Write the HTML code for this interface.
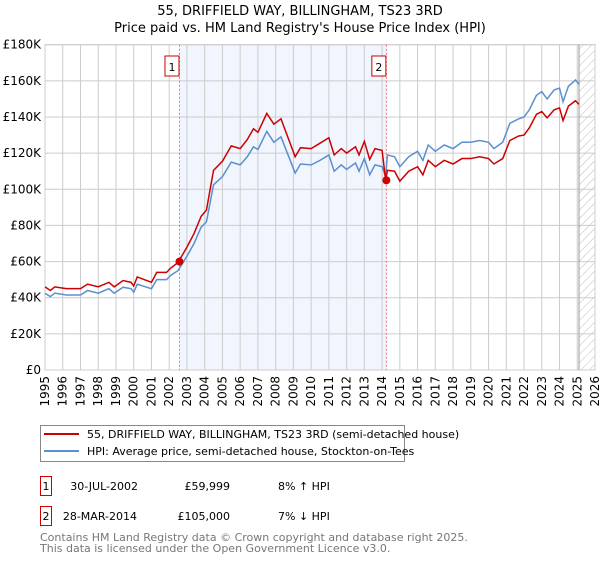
<!DOCTYPE html>
<html><head><meta charset="utf-8"><style>
body{margin:0;background:#fff;font-family:"Liberation Sans","DejaVu Sans",sans-serif}
svg text{font-family:"DejaVu Sans","Liberation Sans",sans-serif}
</style></head><body>
<svg id="chart" width="600" height="560" xmlns="http://www.w3.org/2000/svg">
<defs><pattern id="hatch" width="6" height="6" patternUnits="userSpaceOnUse" patternTransform="rotate(45)"><line x1="0" y1="0" x2="0" y2="6" stroke="#bbb" stroke-width="1"/></pattern></defs>
<text x="300" y="15" text-anchor="middle" font-size="13">55, DRIFFIELD WAY, BILLINGHAM, TS23 3RD</text>
<text x="300" y="32" text-anchor="middle" font-size="13">Price paid vs. HM Land Registry's House Price Index (HPI)</text>
<g id="plot"></g>
<g>
<rect x="40.5" y="425.5" width="364" height="36" fill="#fff" stroke="#888"/>
<line x1="44" y1="434" x2="79" y2="434" stroke="#cc0000" stroke-width="2"/>
<text x="87" y="438" font-size="11">55, DRIFFIELD WAY, BILLINGHAM, TS23 3RD (semi-detached house)</text>
<line x1="44" y1="451" x2="79" y2="451" stroke="#5b8fd0" stroke-width="2"/>
<text x="87" y="455" font-size="11">HPI: Average price, semi-detached house, Stockton-on-Tees</text>
</g>
<g font-size="11">
<rect x="40.5" y="476.5" width="11" height="19" fill="#fff" stroke="#cc0000"/>
<text x="46" y="490" text-anchor="middle">1</text>
<text x="138" y="490" text-anchor="end">30-JUL-2002</text>
<text x="230" y="490" text-anchor="end">£59,999</text>
<text x="278" y="490">8% ↑ HPI</text>
<rect x="40.5" y="506.5" width="11" height="19" fill="#fff" stroke="#cc0000"/>
<text x="46" y="520" text-anchor="middle">2</text>
<text x="137" y="520" text-anchor="end">28-MAR-2014</text>
<text x="230" y="520" text-anchor="end">£105,000</text>
<text x="278" y="520">7% ↓ HPI</text>
</g>
<text x="40" y="541" font-size="11" fill="#777">Contains HM Land Registry data © Crown copyright and database right 2025.</text>
<text x="40" y="552" font-size="11" fill="#777">This data is licensed under the Open Government Licence v3.0.</text>
</svg>
<script>
const hpiYears=[1995.0,1995.3,1995.55,1996.2,1997.0,1997.4,1998.0,1998.6,1998.9,1999.4,1999.85,2000.0,2000.2,2001.0,2001.3,2001.85,2002.1,2002.5,2003.0,2003.4,2003.8,2004.1,2004.5,2005.0,2005.5,2006.0,2006.4,2006.75,2007.0,2007.5,2007.9,2008.3,2008.7,2009.1,2009.4,2010.0,2010.5,2011.0,2011.3,2011.7,2012.0,2012.5,2012.7,2013.0,2013.3,2013.6,2014.0,2014.2,2014.3,2014.7,2015.0,2015.5,2016.0,2016.3,2016.6,2017.0,2017.5,2018.0,2018.5,2019.0,2019.5,2020.0,2020.3,2020.8,2021.2,2021.7,2022.0,2022.3,2022.7,2023.0,2023.3,2023.7,2024.0,2024.2,2024.5,2024.9,2025.1];
const hpiValues=[42.5,40.6,42.5,41.5,41.5,44,42.5,45,42.5,45.8,45,43,47.5,45,50,50,52.5,55,63,70,79,82,102.5,107,115,113.5,118,123.5,122,132,126,129,119,109,114,113.5,116,119,110,113.5,111,114.5,110,117,108,113.5,112.5,107,119,118,112.5,118,121,116,124.5,121,124.5,122.5,126,126,127,126,122.5,126,136.5,139,140,144,152,154,150,155,156,148.5,157,160.5,158];
const priceValues=[46,44,46,45,45,47.5,46,48.5,46,49.5,48.5,46.5,51.5,48.5,54,54,56.5,59.5,68,75.5,85,88.5,110.5,115.5,124,122.5,127.5,133.5,131.5,142,136,139,128.5,118,123,122.5,125.5,128.5,119,122.5,120,123.5,119,126.5,116.5,122.5,121.5,105,110.5,110,104.5,110,112.5,108,116,112.5,116,114,117,117,118,117,114,117,127,129.5,130,134,141.5,143,139.5,144,145,138,146,149,147];
const saleYears=[2002.58,2014.24];
const saleValues=[59.999,105];
const yTicks=[0,20,40,60,80,100,120,140,160,180];
const yTickLabels=["£0","£20K","£40K","£60K","£80K","£100K","£120K","£140K","£160K","£180K"];
const xTicks=[1995,1996,1997,1998,1999,2000,2001,2002,2003,2004,2005,2006,2007,2008,2009,2010,2011,2012,2013,2014,2015,2016,2017,2018,2019,2020,2021,2022,2023,2024,2025,2026];

const L=45,R=595,T=44.7,B=370,X0=1995,X1=2026,YMAX=180;
const sx=v=>L+(v-X0)/(X1-X0)*(R-L);
const sy=v=>B-v/YMAX*(B-T);
const NS="http://www.w3.org/2000/svg";
const g=document.getElementById('plot');
function mk(tag,attrs,parent){const e=document.createElementNS(NS,tag);for(const k in attrs)e.setAttribute(k,attrs[k]);(parent||g).appendChild(e);return e;}

const shade=mk('rect',{x:sx(saleYears[0]),y:T,width:sx(saleYears[1])-sx(saleYears[0]),height:B-T,fill:'#eef2fc',opacity:0.8});


const hatch=mk('rect',{x:sx(2025.1),y:T,width:R-sx(2025.1),height:B-T,fill:'url(#hatch)'});



yTicks.forEach((v,i)=>{
  const ln=mk('line',{x1:L,x2:R,y1:sy(v),y2:sy(v),stroke:'#ccc','stroke-width':1});
  
  
  const t=mk('text',{x:L-4,y:sy(v)+4,'text-anchor':'end','font-size':12});
  t.textContent=yTickLabels[i];
  
  
});
xTicks.forEach(v=>{
  const ln=mk('line',{x1:sx(v),x2:sx(v),y1:T,y2:B,stroke:'#ccc','stroke-width':1});
  
  
  const t=mk('text',{x:0,y:0,'text-anchor':'end','font-size':12,transform:`translate(${sx(v)+4},${B+6}) rotate(-90)`});
  t.textContent=v;
  
  
});
const border=mk('rect',{x:L,y:T,width:R-L,height:B-T,fill:'none',stroke:'#ccc'});


const edge=mk('line',{x1:sx(2025.1),x2:sx(2025.1),y1:T,y2:B,stroke:'#999','stroke-width':1});



saleYears.forEach((y,i)=>{
  const vl=mk('line',{x1:sx(y),x2:sx(y),y1:T,y2:B,stroke:'#f07070','stroke-width':1,'stroke-dasharray':'2,2'});
  
  
  const bx=mk('rect',{x:sx(y)-14.5,y:56,width:14,height:20,fill:'#fff',stroke:'#cc0000'});
  
  
  const t=mk('text',{x:sx(y)-7.5,y:71,'text-anchor':'middle','font-size':11});
  t.textContent=String(i+1);
  
  
});

const hp=mk('polyline',{points:hpiYears.map((x,i)=>sx(x)+','+sy(hpiValues[i])).join(' '),fill:'none',stroke:'#5b8fd0','stroke-width':1.5});


const pp=mk('polyline',{points:hpiYears.map((x,i)=>sx(x)+','+sy(priceValues[i])).join(' '),fill:'none',stroke:'#cc0000','stroke-width':1.5});


saleYears.forEach((x,i)=>{
  const c=mk('circle',{cx:sx(x),cy:sy(saleValues[i]),r:4,fill:'#cc0000'});
  
  
});
</script>
</body></html>
